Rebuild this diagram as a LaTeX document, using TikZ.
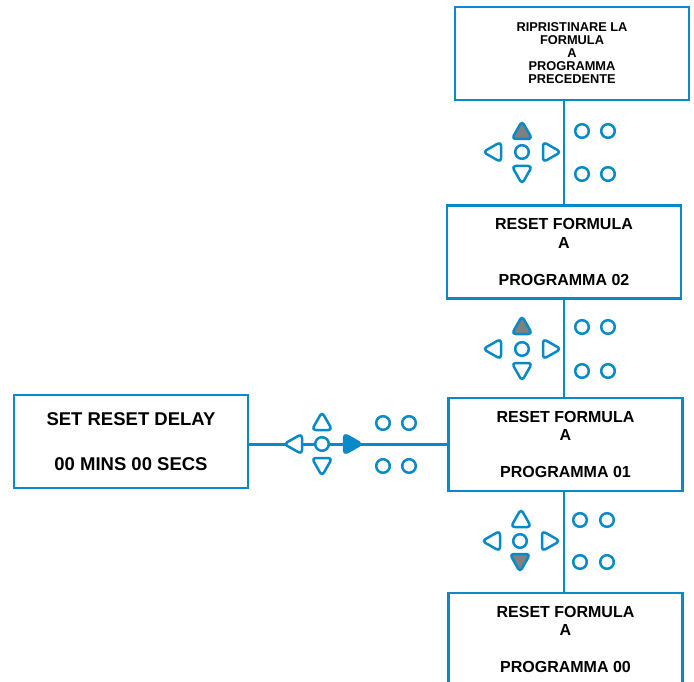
\documentclass[tikz,border=0pt]{standalone}
\usepackage{fontspec}
\setmainfont{Liberation Sans}
\definecolor{kblue}{RGB}{8,138,200}
\definecolor{kgray}{RGB}{128,128,128}
\tikzset{
  x=1pt, y=-1pt,
  box/.style={draw=kblue, line width=2.6pt, fill=white, align=center, inner sep=0pt,
    minimum width=234pt, minimum height=93pt},
  bigtxt/.style={font=\bfseries\fontsize{16}{18.5}\selectfont},
  conn/.style={draw=kblue, line width=2.4pt},
  keyline/.style={draw=kblue, line width=2.5pt, line join=round, rounded corners=3.8pt},
  pics/tri/.style={code={\path[keyline, fill=#1] (0,-10) -- (10.2,8) -- (-10.2,8) -- cycle;}},
  pics/tri/.default=white,
  pics/btn/.style={code={\path[keyline, fill=white] (0,0) circle (6.8pt);}},
}
\begin{document}
\begin{tikzpicture}
\path[use as bounding box] (0,0) rectangle (694,682);
\clip (0,0) rectangle (694,682);

% boxes
\node[box, font=\bfseries\fontsize{12.8}{13}\selectfont] (top) at (572,53.5)
  {RIPRISTINARE LA\\FORMULA\\A\\PROGRAMMA\\PRECEDENTE};
\node[box, bigtxt] (b2) at (564,252) {RESET FORMULA\\A\\[18.5pt]PROGRAMMA 02};
\node[box, bigtxt] (b3) at (565.5,444.5) {RESET FORMULA\\A\\[18.5pt]PROGRAMMA 01};
\node[box, bigtxt] (b4) at (565.5,639.5) {RESET FORMULA\\A\\[18.5pt]PROGRAMMA 00};
\node[box, font=\bfseries\fontsize{18.5}{21}\selectfont] (left) at (131,441.5)
  {\rule{0pt}{6pt}SET RESET DELAY\\[24pt]00 MINS 00 SECS};

% connectors
\path[conn] (b2.north |- top.south) -- (b2.north);
\path[conn] (b2.south) -- (b2.south |- b3.north);
\path[conn] (b3.south -| b2.south) -- (b4.north -| b2.south);
\path[conn] (left.east |- b3.west) -- (b3.west);

% keypad 1
\pic at (522,131) {tri=kgray};
\pic[rotate=90] at (493,152) {tri};
\pic at (522,152) {btn};
\pic[rotate=-90] at (551,152) {tri};
\pic[rotate=180] at (522,174) {tri};
\pic at (582,131) {btn};
\pic at (608,131) {btn};
\pic at (582,174) {btn};
\pic at (608,174) {btn};

% keypad 2
\pic at (522,326) {tri=kgray};
\pic[rotate=90] at (493,349) {tri};
\pic at (522,349) {btn};
\pic[rotate=-90] at (551,349) {tri};
\pic[rotate=180] at (522,371) {tri};
\pic at (582,327) {btn};
\pic at (608,327) {btn};
\pic at (582,371) {btn};
\pic at (608,371) {btn};

% keypad 3
\pic at (521,519) {tri};
\pic[rotate=90] at (492,541) {tri};
\pic at (520,541) {btn};
\pic[rotate=-90] at (550,541) {tri};
\pic[rotate=180] at (520,562) {tri=kgray};
\pic at (580,520) {btn};
\pic at (607,520) {btn};
\pic at (580,562) {btn};
\pic at (607,562) {btn};

% horizontal keypad
\pic at (322,422) {tri};
\pic[rotate=90] at (294,444) {tri};
\pic at (322,444) {btn};
\pic[rotate=-90] at (352,444) {tri=kblue};
\pic[rotate=180] at (322,466) {tri};
\pic at (383,423) {btn};
\pic at (409,423) {btn};
\pic at (383,466) {btn};
\pic at (409,466) {btn};
\end{tikzpicture}
\end{document}
